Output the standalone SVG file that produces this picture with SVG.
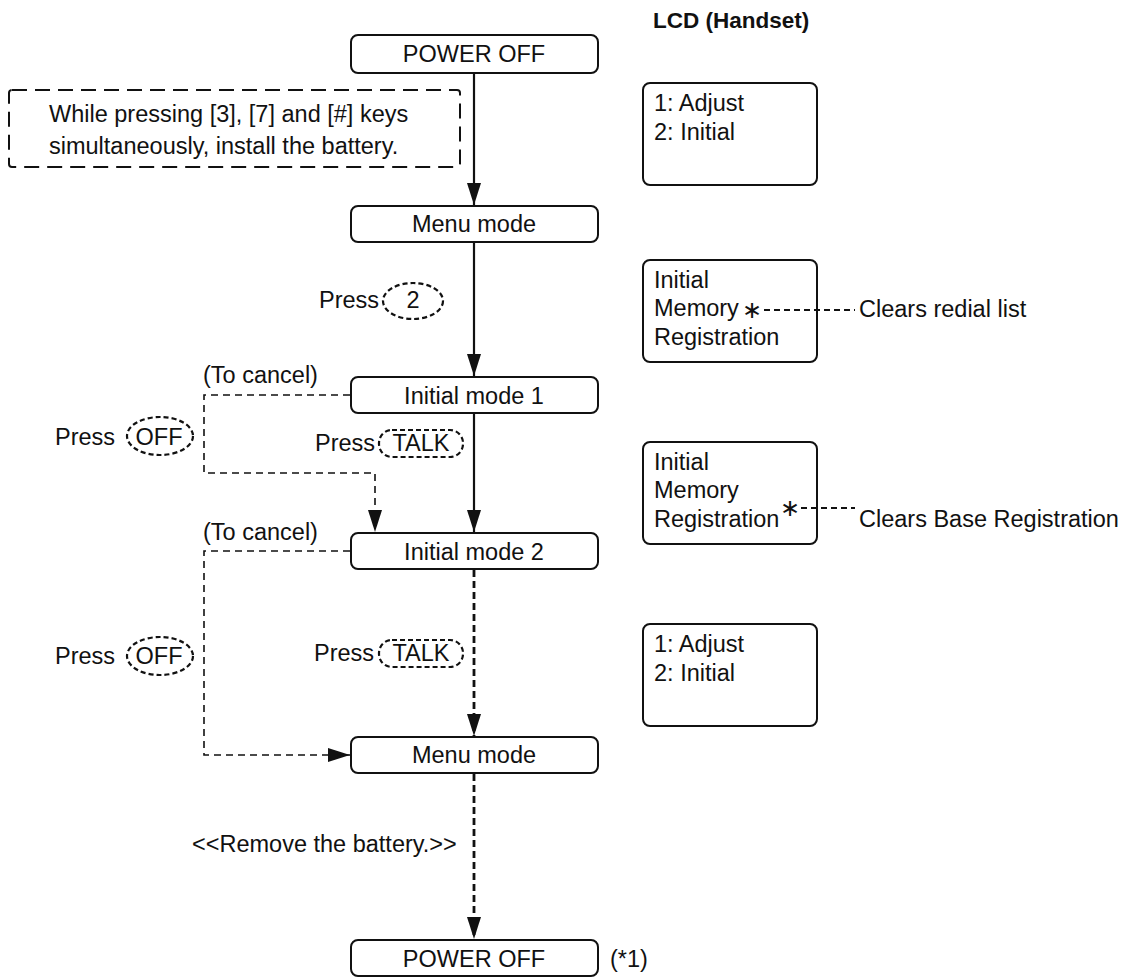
<svg xmlns="http://www.w3.org/2000/svg" width="1128" height="977" viewBox="0 0 1128 977">
<style>
text{font-family:"Liberation Sans",Arial,sans-serif;font-size:23.5px;fill:#111}
.c{text-anchor:middle}
.hdr{font-weight:bold;font-size:22.5px}
.box{fill:#fff;stroke:#111;stroke-width:2}
.lcd{fill:none;stroke:#111;stroke-width:2}
.note{fill:none;stroke:#111;stroke-width:2;stroke-dasharray:15 8}
.key{fill:none;stroke:#111;stroke-width:2.2;stroke-dasharray:5 3}
.solid{fill:none;stroke:#111;stroke-width:2.2}
.thin{fill:none;stroke:#111;stroke-width:1.6;stroke-dasharray:7 5}
.thick{fill:none;stroke:#111;stroke-width:2.8;stroke-dasharray:7 4}
.lead{fill:none;stroke:#111;stroke-width:2;stroke-dasharray:6 4}
.ast{font-family:"DejaVu Sans",sans-serif;font-size:24px;text-anchor:middle}
</style>
<defs>
<marker id="ah" markerUnits="userSpaceOnUse" markerWidth="24" markerHeight="16" refX="22" refY="7" orient="auto">
<path d="M0,0 L22,7 L0,14 Z" fill="#111"/>
</marker>
</defs>

<text class="hdr" x="653" y="28">LCD (Handset)</text>

<g id="note">
<rect class="note" x="9" y="90" width="451" height="77" rx="3"/>
<text x="49" y="122">While pressing [3], [7] and [#] keys</text>
<text x="49" y="154">simultaneously, install the battery.</text>
</g>

<g id="power-off-1">
<rect class="box" x="351" y="35" width="247" height="38" rx="7"/>
<text class="c" x="474" y="62">POWER OFF</text>
</g>
<g id="menu-mode-1">
<rect class="box" x="351" y="206" width="247" height="36" rx="7"/>
<text class="c" x="474" y="232">Menu mode</text>
</g>
<g id="initial-mode-1">
<rect class="box" x="351" y="377" width="247" height="36" rx="7"/>
<text class="c" x="474" y="404">Initial mode 1</text>
</g>
<g id="initial-mode-2">
<rect class="box" x="351" y="533" width="247" height="36" rx="7"/>
<text class="c" x="474" y="560">Initial mode 2</text>
</g>
<g id="menu-mode-2">
<rect class="box" x="351" y="737" width="247" height="36" rx="7"/>
<text class="c" x="474" y="763">Menu mode</text>
</g>
<g id="power-off-2">
<rect class="box" x="351" y="940" width="247" height="36" rx="7"/>
<text class="c" x="474" y="967">POWER OFF</text>
<text x="610" y="967">(*1)</text>
</g>

<g id="press-2">
<text x="319" y="308">Press</text>
<ellipse class="key" cx="413" cy="301" rx="30" ry="18"/>
<text class="c" x="413" y="308">2</text>
</g>
<g id="press-talk-1">
<text x="315" y="451">Press</text>
<rect class="key" x="379" y="430" width="84" height="27" rx="13"/>
<text class="c" x="421" y="451">TALK</text>
</g>
<g id="press-off-1">
<text x="55" y="445">Press</text>
<ellipse class="key" cx="160" cy="436" rx="33" ry="19"/>
<text class="c" x="159" y="445">OFF</text>
</g>
<g id="cancel-1"><text x="203" y="383">(To cancel)</text></g>
<g id="cancel-2"><text x="203" y="540">(To cancel)</text></g>
<g id="press-talk-2">
<text x="314" y="661">Press</text>
<rect class="key" x="379" y="640" width="84" height="27" rx="13"/>
<text class="c" x="421" y="661">TALK</text>
</g>
<g id="press-off-2">
<text x="55" y="664">Press</text>
<ellipse class="key" cx="160" cy="656" rx="33" ry="19"/>
<text class="c" x="159" y="664">OFF</text>
</g>
<g id="remove-battery"><text x="192" y="852">&lt;&lt;Remove the battery.&gt;&gt;</text></g>

<g id="lcd-1">
<rect class="lcd" x="643" y="83" width="174" height="102" rx="7"/>
<text x="654" y="111">1: Adjust</text>
<text x="654" y="140">2: Initial</text>
</g>
<g id="lcd-2">
<rect class="lcd" x="643" y="260" width="174" height="102" rx="7"/>
<text x="654" y="288">Initial</text>
<text x="654" y="316">Memory</text>
<text x="654" y="345">Registration</text>
<text class="ast" x="752" y="318">∗</text>
<text x="859" y="317">Clears redial list</text>
</g>
<g id="lcd-3">
<rect class="lcd" x="643" y="442" width="174" height="102" rx="7"/>
<text x="654" y="470">Initial</text>
<text x="654" y="498">Memory</text>
<text x="654" y="527">Registration</text>
<text class="ast" x="790" y="516">∗</text>
<text x="859" y="527">Clears Base Registration</text>
</g>
<g id="lcd-4">
<rect class="lcd" x="643" y="624" width="174" height="102" rx="7"/>
<text x="654" y="652">1: Adjust</text>
<text x="654" y="681">2: Initial</text>
</g>

<g id="connectors">
<path class="solid" d="M474,73 V205" marker-end="url(#ah)"/>
<path class="solid" d="M474,242 V376" marker-end="url(#ah)"/>
<path class="solid" d="M474,413 V532" marker-end="url(#ah)"/>
<path class="thin" d="M350,395 H204 V473 H375 V532" marker-end="url(#ah)"/>
<path class="thick" d="M474,570 V736" marker-end="url(#ah)"/>
<path class="thin" d="M350,551 H204 V755 H350" marker-end="url(#ah)"/>
<path class="thick" d="M474,774 V939" marker-end="url(#ah)"/>
<path class="lead" d="M764,310 H855"/>
<path class="lead" d="M801,508 H855"/>
</g>
</svg>
